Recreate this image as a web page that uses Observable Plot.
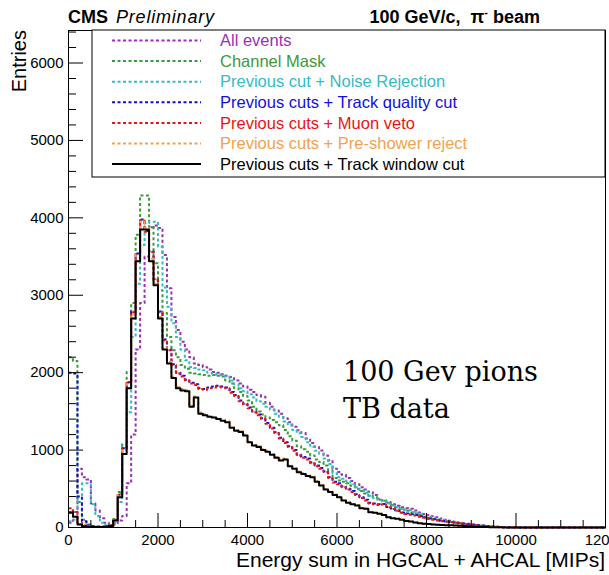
<!DOCTYPE html>
<html>
<head>
<meta charset="utf-8">
<script src="https://cdn.jsdelivr.net/npm/d3@7"></script>
<script src="https://cdn.jsdelivr.net/npm/@observablehq/plot@0.6"></script>
<style>
body { margin: 0; background: #fff; }
#wrap { position: relative; width: 609px; height: 575px; background: #fff; }
.hist text { font-family: "Liberation Sans", Arial, Helvetica, sans-serif; font-size: 15px; fill: #000; }
</style>
</head>
<body>
<div id="wrap"></div>
<script>
// ---------------- data (bin contents, 100-MIP bins starting at 0) ----------------
const binWidth = 100;

const allEvents = [
  60, 100, 760, 650, 620, 310, 220, 120, 60, 40,
  40, 90, 150, 570, 1200, 2300, 2900, 3500, 3880, 3900,
  3870, 3520, 3090, 2720, 2550, 2400, 2300, 2200, 2118, 2100,
  2070, 2040, 2010, 2000, 1980, 1960, 1945, 1900, 1860, 1820,
  1780, 1750, 1710, 1690, 1610, 1560, 1510, 1470, 1410, 1360,
  1300, 1255, 1220, 1150, 1090, 1040, 996, 930, 870, 760,
  716, 680, 640, 600, 560, 521, 490, 460, 420, 371,
  350, 330, 300, 280, 262, 250, 242, 220, 195, 175,
  160, 145, 134, 115, 100, 88, 75, 62, 55, 48,
  40, 32, 25, 20, 15, 10, 4, 3, 2, 1
];
const channelMask = [
  2200, 2150, 330, 100, 40, 20, 15, 15, 20, 30,
  110, 460, 1080, 2010, 2900, 3780, 4290, 4290, 3885, 3415,
  3066, 2770, 2460, 2290, 2200, 2100, 2050, 2000, 1990, 1980,
  1970, 1960, 1970, 1960, 1950, 1900, 1860, 1800, 1750, 1700,
  1640, 1560, 1500, 1460, 1420, 1390, 1360, 1320, 1260, 1180,
  1120, 1050, 1010, 980, 930, 880, 845, 800, 740, 640,
  608, 590, 570, 540, 500, 470, 440, 410, 390, 360,
  345, 320, 290, 260, 235, 215, 195, 180, 160, 140,
  125, 110, 98, 88, 78, 70, 62, 54, 46, 40,
  33, 27, 22, 17, 12, 9, 7, 5, 3, 2
];
const noiseRejection = [
  80, 100, 400, 570, 570, 300, 150, 60, 30, 30,
  60, 330, 1040, 1490, 2460, 3150, 3650, 3930, 3950, 3950,
  3626, 3100, 2850, 2640, 2460, 2300, 2160, 2073, 2060, 2040,
  2031, 2000, 1990, 1966, 1966, 1950, 1900, 1850, 1800, 1760,
  1720, 1680, 1630, 1600, 1560, 1520, 1470, 1427, 1370, 1320,
  1260, 1216, 1170, 1100, 1040, 990, 953, 890, 820, 700,
  650, 630, 600, 560, 520, 480, 450, 410, 380, 360,
  340, 310, 285, 260, 240, 230, 225, 200, 180, 160,
  140, 125, 110, 100, 90, 80, 70, 60, 50, 42,
  35, 28, 22, 17, 13, 10, 7, 5, 3, 2
];
const trackQuality = [
  2000, 1990, 400, 80, 30, 15, 10, 10, 15, 25,
  100, 425, 1025, 1875, 2790, 3540, 3980, 3830, 3570, 3210,
  2790, 2430, 2300, 2110, 2000, 1960, 1910, 1870, 1850, 1800,
  1790, 1810, 1820, 1830, 1820, 1810, 1750, 1710, 1640, 1600,
  1550, 1500, 1460, 1410, 1350, 1290, 1230, 1160, 1100, 1050,
  1000, 940, 910, 890, 840, 800, 768, 725, 650, 590,
  570, 530, 500, 470, 430, 390, 360, 320, 310, 300,
  305, 265, 245, 220, 195, 180, 170, 160, 145, 130,
  115, 105, 95, 85, 78, 70, 62, 54, 47, 42,
  34, 30, 22, 16, 11, 9, 7, 5, 4, 2
];
const muonVeto = [
  250, 200, 60, 25, 12, 8, 8, 8, 15, 25,
  100, 420, 1020, 1870, 2780, 3530, 3970, 3820, 3560, 3200,
  2780, 2420, 2290, 2100, 1990, 1950, 1900, 1860, 1840, 1790,
  1780, 1800, 1810, 1820, 1810, 1800, 1740, 1700, 1630, 1590,
  1540, 1490, 1450, 1400, 1340, 1280, 1220, 1150, 1090, 1040,
  990, 931, 900, 880, 830, 790, 759, 716, 640, 580,
  560, 520, 490, 460, 420, 380, 350, 310, 300, 290,
  300, 260, 240, 215, 190, 175, 165, 155, 140, 125,
  110, 100, 90, 80, 75, 68, 60, 52, 45, 40,
  32, 28, 20, 15, 10, 8, 6, 4, 3, 2
];
const preShower = [
  200, 150, 45, 18, 10, 6, 6, 6, 12, 22,
  100, 420, 1000, 1850, 2750, 3520, 3950, 3870, 3470, 3150,
  2720, 2320, 2140, 1950, 1815, 1790, 1775, 1575, 1695, 1485,
  1465, 1445, 1432, 1412, 1392, 1372, 1300, 1260, 1243, 1200,
  1110, 1070, 1050, 1010, 990, 950, 910, 877, 890, 800,
  770, 725, 700, 675, 658, 598, 550, 497, 467, 426,
  398, 356, 325, 305, 290, 255, 245, 202, 194, 180,
  163, 137, 123, 114, 102, 87, 80, 67, 57, 50,
  46, 41, 36, 33, 31, 29, 27, 23, 19, 17,
  14, 11, 9, 6, 5, 4, 3, 2, 1, 0
];
const trackWindow = [
  190, 140, 40, 15, 8, 5, 5, 5, 10, 20,
  90, 390, 950, 1800, 2700, 3440, 3850, 3850, 3440, 3130,
  2700, 2300, 2120, 1930, 1800, 1770, 1760, 1560, 1680, 1470,
  1450, 1430, 1420, 1400, 1380, 1360, 1290, 1250, 1233, 1190,
  1100, 1060, 1040, 1000, 980, 940, 900, 867, 880, 790,
  760, 715, 690, 665, 650, 590, 543, 490, 460, 420,
  392, 350, 320, 300, 285, 250, 241, 198, 190, 177,
  160, 134, 120, 112, 100, 85, 78, 65, 55, 48,
  45, 40, 35, 32, 30, 28, 26, 22, 18, 16,
  13, 10, 8, 5, 4, 3, 2, 1, 1, 0
];

const seriesNames = [
  "All events",
  "Channel Mask",
  "Previous cut + Noise Rejection",
  "Previous cuts + Track quality cut",
  "Previous cuts + Muon veto",
  "Previous cuts + Pre-shower reject",
  "Previous cuts + Track window cut"
];
const seriesValues = [allEvents, channelMask, noiseRejection, trackQuality, muonVeto, preShower, trackWindow];

const xMajorTicks = [0, 2000, 4000, 6000, 8000, 10000, 12000];
const xMinorTicks = [500, 1000, 1500, 2500, 3000, 3500, 4500, 5000, 5500, 6500, 7000, 7500, 8500, 9000, 9500, 10500, 11000, 11500];
const yMajorTicks = [0, 1000, 2000, 3000, 4000, 5000, 6000];
const yMinorTicks = [200, 400, 600, 800, 1200, 1400, 1600, 1800, 2200, 2400, 2600, 2800, 3200, 3400, 3600, 3800, 4200, 4400, 4600, 4800, 5200, 5400, 5600, 5800, 6200, 6400];

const xTitle = "Energy sum in HGCAL + AHCAL [MIPs]";
const yTitle = "Entries";
const headerLeftBold = "CMS";
const headerLeftItalic = "Preliminary";
const headerRight = "100 GeV/c,\u00a0\u00a0\u03c0";
const headerRightSup = "-";
const headerRightTail = " beam";
const noteLines = ["100 Gev pions", "TB data"];

// ---------------- styles ----------------
const seriesColors = ["#9b2fb6", "#3b9a3b", "#33bcc6", "#1010dc", "#e81414", "#f4a24e", "#000000"];
const seriesDash = ["3,2.5", "3,2.5", "3,2.5", "3,2.5", "3,2.5", "3,2.5", null];

const W = 609, H = 575;
const mL = 68, mR = 4, mT = 30, mB = 48;
const frameW = W - mL - mR, frameH = H - mT - mB;
const font = '"Liberation Sans", Arial, Helvetica, sans-serif';

function stepPoints(values) {
  const pts = values.map((v, i) => ({x: i * binWidth, y: v}));
  pts.push({x: values.length * binWidth, y: 0});
  pts.push({x: 12000, y: 0});
  return pts;
}

const lineMarks = seriesValues.map((vals, i) =>
  Plot.line(stepPoints(vals), {
    x: "x", y: "y", curve: "step-after",
    stroke: seriesColors[i], strokeWidth: 2,
    strokeDasharray: seriesDash[i] ?? undefined,
    strokeLinecap: "butt"
  })
);

const chart = Plot.plot({
  width: W, height: H,
  marginLeft: mL, marginRight: mR, marginTop: mT, marginBottom: mB,
  className: "hist",
  style: {background: "white", fontFamily: font, fontSize: "15px", color: "black", overflow: "visible"},
  x: {domain: [0, 12000], ticks: xMajorTicks, tickSize: 0, tickPadding: 7, tickFormat: d => String(d), label: null},
  y: {domain: [0, 6420], ticks: yMajorTicks, tickSize: 0, tickPadding: 5, tickFormat: d => String(d), label: null},
  marks: [
    ...lineMarks,
    Plot.tickX(xMajorTicks, {x: d => d, stroke: "black", strokeWidth: 1, insetTop: frameH - 14}),
    Plot.tickX(xMinorTicks, {x: d => d, stroke: "black", strokeWidth: 1, insetTop: frameH - 7}),
    Plot.tickY(yMajorTicks, {y: d => d, stroke: "black", strokeWidth: 1, insetRight: frameW - 15}),
    Plot.tickY(yMinorTicks, {y: d => d, stroke: "black", strokeWidth: 1, insetRight: frameW - 8}),
    Plot.frame({stroke: "black", strokeWidth: 1})
  ]
});
document.getElementById("wrap").appendChild(chart);

// ---------------- overlay: header, legend, titles, annotation ----------------
const ov = d3.select("#wrap").append("svg")
  .attr("width", W).attr("height", H)
  .style("position", "absolute").style("left", "0px").style("top", "0px")
  .style("pointer-events", "none")
  .attr("font-family", font);

// header
const hl = ov.append("text").attr("x", 68).attr("y", 23).attr("font-size", 18);
hl.append("tspan").attr("font-weight", "bold").text(headerLeftBold);
hl.append("tspan").attr("dx", 8).attr("font-style", "italic").attr("letter-spacing", 0.8).text(headerLeftItalic);
const hr = ov.append("text").attr("x", 540).attr("y", 23).attr("font-size", 18).attr("font-weight", "bold").attr("text-anchor", "end");
hr.append("tspan").text(headerRight);
hr.append("tspan").attr("dy", -7).attr("font-size", 11).text(headerRightSup);
hr.append("tspan").attr("dy", 7).text(headerRightTail);

// legend box
const lgX0 = 92, lgY0 = 30, lgX1 = 605, lgY1 = 177;
ov.append("rect").attr("x", lgX0).attr("y", lgY0).attr("width", lgX1 - lgX0).attr("height", lgY1 - lgY0)
  .attr("fill", "white").attr("stroke", "black").attr("stroke-width", 1);
const rowY0 = 40.5, rowStep = 20.6;
seriesNames.forEach((name, i) => {
  const y = rowY0 + i * rowStep;
  ov.append("line").attr("x1", 112).attr("x2", 201).attr("y1", y).attr("y2", y)
    .attr("stroke", seriesColors[i]).attr("stroke-width", 2)
    .attr("stroke-dasharray", seriesDash[i] || null);
  ov.append("text").attr("x", 220).attr("y", y + 5.6).attr("font-size", 16.5)
    .attr("fill", seriesColors[i]).text(name);
});

// axis titles
ov.append("text").attr("x", 605).attr("y", 567).attr("font-size", 21).attr("text-anchor", "end").text(xTitle);
ov.append("text").attr("transform", "translate(26,30) rotate(-90)").attr("font-size", 20)
  .attr("text-anchor", "end").text(yTitle);

// annotation
noteLines.forEach((t, i) => {
  ov.append("text").attr("x", 343).attr("y", 381 + i * 36.5)
    .attr("font-family", '"DejaVu Serif", "Liberation Serif", serif').attr("font-size", 27)
    .text(t);
});
</script>
</body>
</html>
